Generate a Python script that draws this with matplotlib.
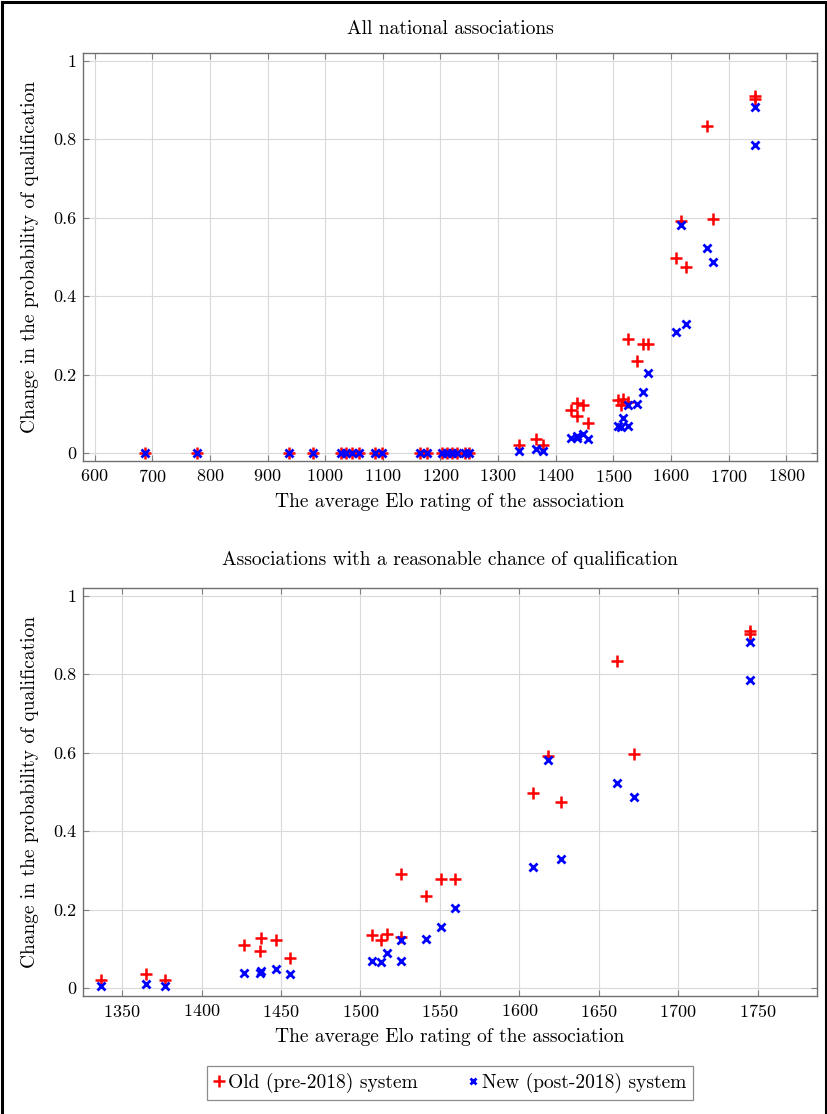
import matplotlib.pyplot as plt
import matplotlib.patches as mpatches
from matplotlib.lines import Line2D

plt.rcParams['font.family'] = 'cmr10'
plt.rcParams['mathtext.fontset'] = 'cm'
plt.rcParams['axes.formatter.use_mathtext'] = True

# associations without a realistic chance (both changes are zero)
low_elo = [687, 777, 938, 979, 1027, 1036, 1046, 1059, 1087, 1098,
           1164, 1176, 1202, 1211, 1220, 1228, 1243, 1250]
low_old = [0, 0, 0, 0, 0, 0, 0, 0, 0, 0, 0, 0, 0, 0, 0, 0, 0, 0]
low_new = [0, 0, 0, 0, 0, 0, 0, 0, 0, 0, 0, 0, 0, 0, 0, 0, 0, 0]

# associations with a reasonable chance of qualification
elo = [1337, 1365, 1377, 1427, 1436.5, 1437.3, 1447, 1456, 1507.6, 1512.9,
       1517, 1525.5, 1525.5, 1541.3, 1550.8, 1559.6, 1608.8, 1617.9, 1626.5,
       1661.5, 1672, 1745.2, 1745.2]
old = [0.020, 0.037, 0.022, 0.110, 0.095, 0.129, 0.124, 0.076, 0.135, 0.122,
       0.138, 0.290, 0.131, 0.235, 0.277, 0.277, 0.498, 0.592, 0.474,
       0.835, 0.597, 0.910, 0.902]
new = [0.006, 0.010, 0.006, 0.039, 0.039, 0.044, 0.048, 0.037, 0.070, 0.066,
       0.090, 0.122, 0.070, 0.125, 0.155, 0.205, 0.308, 0.582, 0.328,
       0.522, 0.486, 0.882, 0.786]

all_elo = low_elo + elo
all_old = low_old + old
all_new = low_new + new

top_xticks = [600, 700, 800, 900, 1000, 1100, 1200, 1300, 1400, 1500, 1600, 1700, 1800]
bot_xticks = [1350, 1400, 1450, 1500, 1550, 1600, 1650, 1700, 1750]
yticks = [0, 0.2, 0.4, 0.6, 0.8, 1]
ytick_labels = ['0', '0.2', '0.4', '0.6', '0.8', '1']

W, H = 828, 1114
fig = plt.figure(figsize=(W / 100, H / 100), dpi=100)

fs = 14
tfs = 13
red_kw = dict(marker='+', color='red', ls='none', ms=9, mew=1.8)
blue_kw = dict(marker='x', color='blue', ls='none', ms=5.5, mew=2.0)


def style(ax, title, title_y):
    ax.grid(True, color='#d9d9d9', lw=0.8)
    ax.set_axisbelow(True)
    for s in ax.spines.values():
        s.set_color('#707070')
        s.set_linewidth(1.0)
    ax.tick_params(direction='in', top=True, right=True, length=4,
                   color='#808080', labelsize=tfs, pad=5)
    ax.set_ylim(-0.02, 1.02)
    ax.set_yticks(yticks)
    ax.set_yticklabels(ytick_labels)
    ax.text(0.5, title_y, title, transform=ax.transAxes, ha='center',
            va='center', fontsize=fs)
    ax.set_xlabel('The average Elo rating of the association', fontsize=fs,
                  va='center')
    ax.xaxis.set_label_coords(0.5, -0.1)
    ax.set_ylabel('Change in the probability of qualification', fontsize=fs,
                  va='center')
    ax.yaxis.set_label_coords(-0.072, 0.5)


# top panel
ax1 = fig.add_axes([83 / W, 1 - 461 / H, 734 / W, 408 / H])
ax1.plot(all_elo, all_old, **red_kw)
ax1.plot(all_elo, all_new, **blue_kw)
ax1.set_xlim(580, 1853)
ax1.set_xticks(top_xticks)
style(ax1, 'All national associations', 1 + 24 / 408)

# bottom panel
ax2 = fig.add_axes([83 / W, 1 - 996 / H, 734 / W, 408 / H])
ax2.plot(elo, old, **red_kw)
ax2.plot(elo, new, **blue_kw)
ax2.set_xlim(1325.4, 1787.4)
ax2.set_xticks(bot_xticks)
style(ax2, 'Associations with a reasonable chance of qualification', 1 + 28 / 408)

leg_red = dict(red_kw, ms=8)
leg_blue = dict(blue_kw, ms=5)
handles = [Line2D([], [], label='Old (pre-2018) system', **leg_red),
           Line2D([], [], label='New (post-2018) system', **leg_blue)]
leg = fig.legend(handles=handles, loc='center', bbox_to_anchor=(450 / W, 1 - 1083 / H),
                 ncol=2, fontsize=fs, frameon=True, fancybox=False,
                 handlelength=0.5, handletextpad=0.2, columnspacing=2.6,
                 borderpad=0.35)
leg.get_frame().set_edgecolor('#707070')
leg.get_frame().set_linewidth(0.9)

# outer frame around the whole picture
fig.patches.append(mpatches.Rectangle((2 / W, -0.02), 824 / W, 1.02 - 2 / H,
                                      transform=fig.transFigure, fill=False,
                                      edgecolor='black', lw=2.2))

fig.savefig('out.png', dpi=100)
